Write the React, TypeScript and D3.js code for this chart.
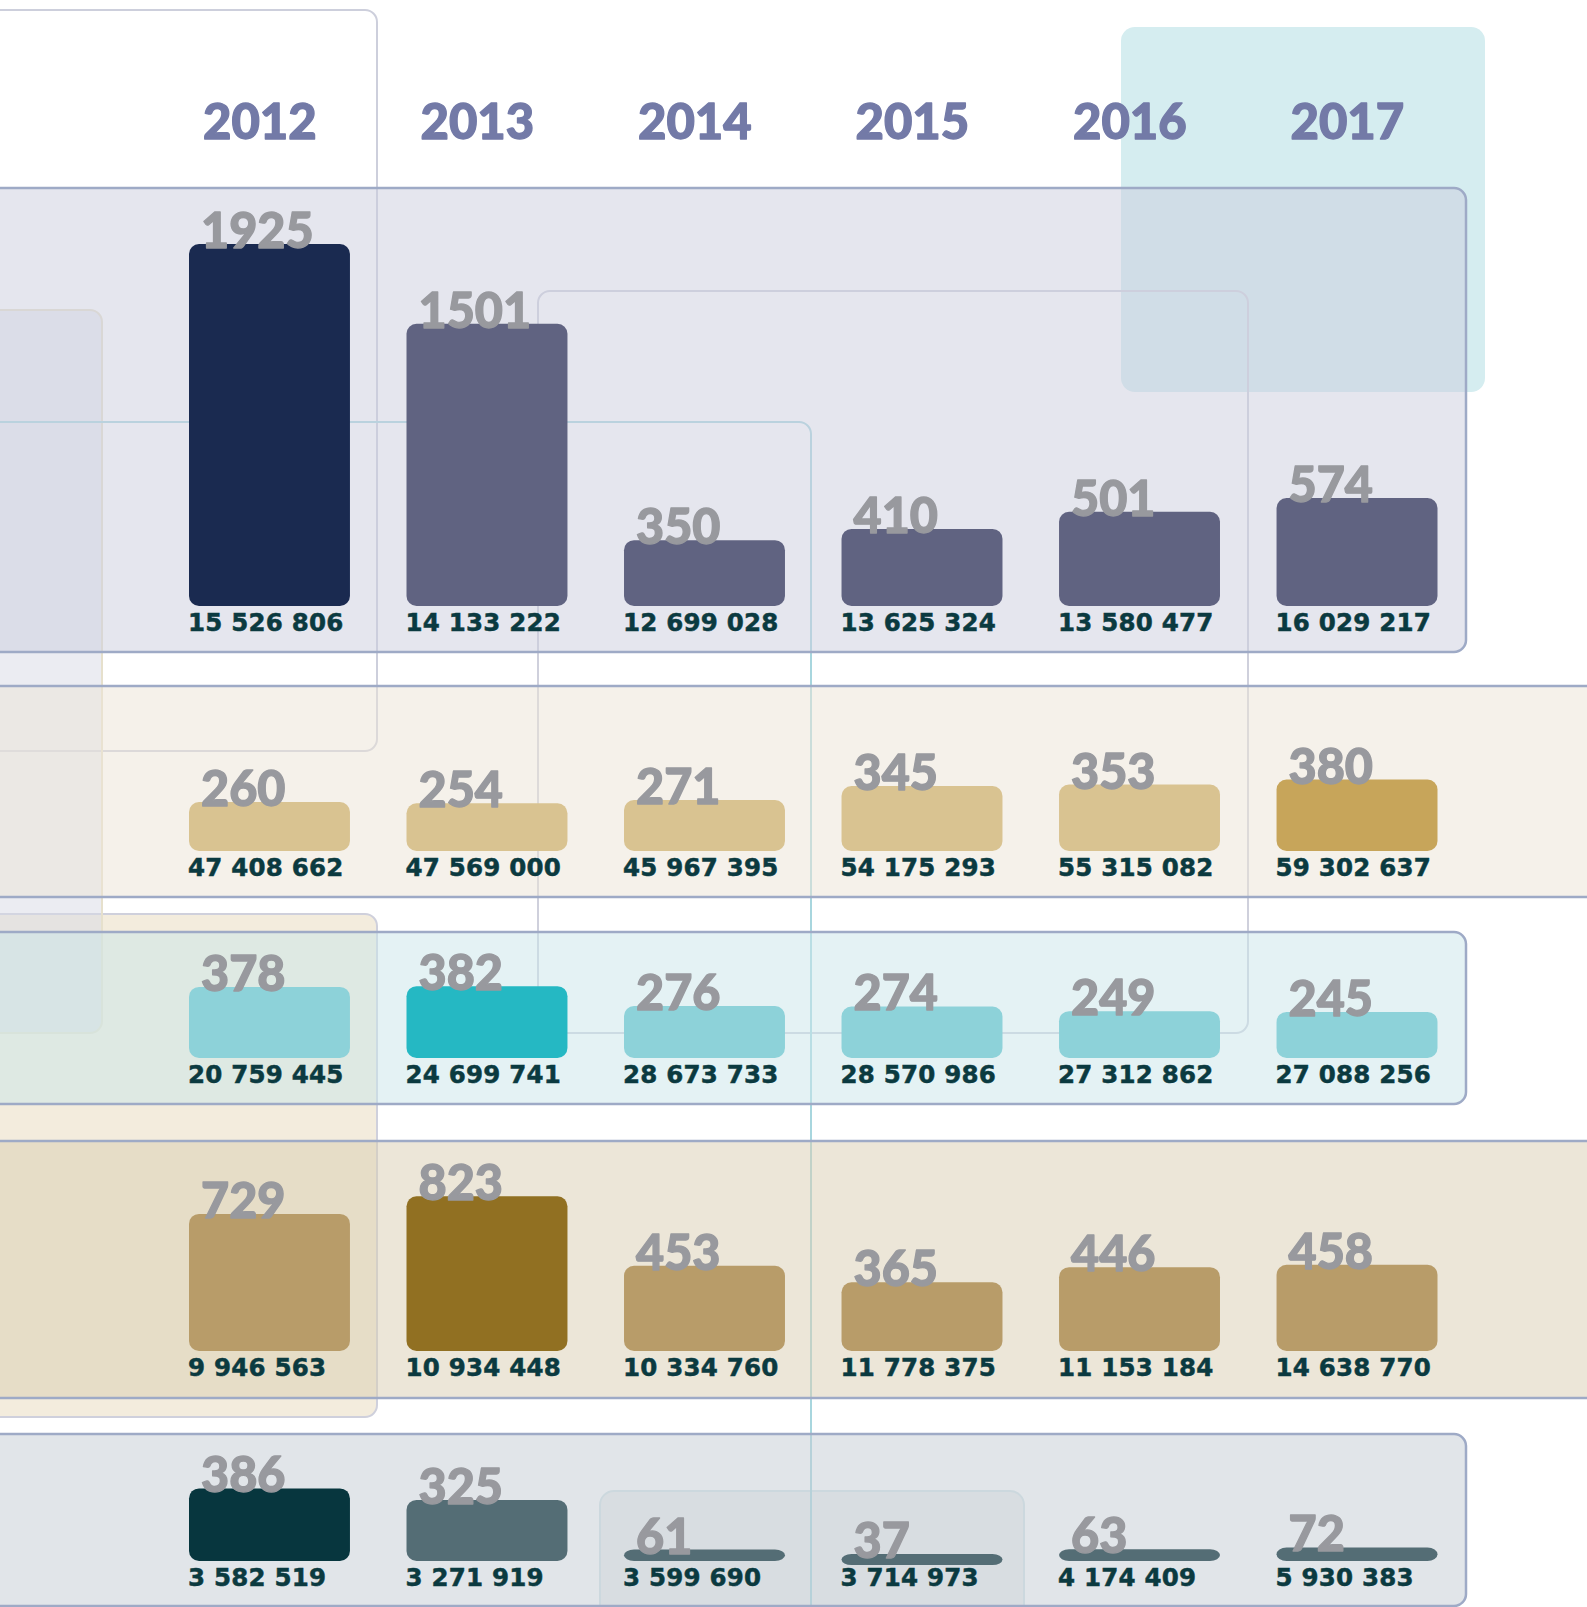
import React from 'react';
import * as d3 from 'd3';

// ---------- data ----------
const years = ['2012', '2013', '2014', '2015', '2016', '2017'];

const row1Counts = [1925, 1501, 350, 410, 501, 574];
const row1Totals = [15526806, 14133222, 12699028, 13625324, 13580477, 16029217];

const row2Counts = [260, 254, 271, 345, 353, 380];
const row2Totals = [47408662, 47569000, 45967395, 54175293, 55315082, 59302637];

const row3Counts = [378, 382, 276, 274, 249, 245];
const row3Totals = [20759445, 24699741, 28673733, 28570986, 27312862, 27088256];

const row4Counts = [729, 823, 453, 365, 446, 458];
const row4Totals = [9946563, 10934448, 10334760, 11778375, 11153184, 14638770];

const row5Counts = [386, 325, 61, 37, 63, 72];
const row5Totals = [3582519, 3271919, 3599690, 3714973, 4174409, 5930383];

const fmt = d3.formatLocale({ decimal: ',', thousands: ' ', grouping: [3], currency: ['', ''] }).format(',d');

export default function App() {
  const W = 1587;
  const H = 1607;

  const x = d3.scaleBand<string>().domain(years).range([189, 1437.5]).paddingInner(0.26).paddingOuter(0);
  const hScale = d3.scaleLinear().domain([0, 1925]).range([0, 362]);

  const rows = [
    { counts: row1Counts, totals: row1Totals, base: 606, color: '#606381', hi: '#1a2a50',
      panel: { x: -20, y: 188, w: 1486, h: 464, fill: '#cbcddd' } },
    { counts: row2Counts, totals: row2Totals, base: 851, color: '#d9c391', hi: '#c7a55a',
      panel: { x: -20, y: 686, w: 1640, h: 211, fill: '#ebe3d5' } },
    { counts: row3Counts, totals: row3Totals, base: 1058, color: '#8dd2d9', hi: '#25b8c3',
      panel: { x: -20, y: 932, w: 1486, h: 172, fill: '#c9e5e9' } },
    { counts: row4Counts, totals: row4Totals, base: 1351, color: '#b89c69', hi: '#917022',
      panel: { x: -20, y: 1141, w: 1640, h: 257, fill: '#d9cdb1' } },
    { counts: row5Counts, totals: row5Totals, base: 1561, color: '#546d75', hi: '#07363e',
      panel: { x: -20, y: 1434, w: 1486, h: 172, fill: '#c3cbd3' } },
  ];

  const bw = x.bandwidth();
  const bigFont = 'Lato, "Open Sans", sans-serif';
  const smallFont = '"DejaVu Sans", Verdana, sans-serif';

  return (
    <svg width={W} height={H} viewBox={`0 0 ${W} ${H}`}
      style={{ position: 'absolute', left: 0, top: 0, display: 'block', background: '#ffffff' }}>
      <rect x={0} y={0} width={W} height={H} fill="#ffffff" />

      {/* decorative background boxes */}
      <rect x={-20} y={10} width={397} height={741} rx={12} fill="none" stroke="#cdcfdc" strokeWidth={2} />
      <rect x={1121} y={27} width={364} height={365} rx={14} fill="#d5edf0" />
      <rect x={-20} y={914} width={397} height={503} rx={12} fill="#f3ecdd" stroke="#cfd0dc" strokeWidth={2} />
      <rect x={-20} y={310} width={122} height={723} rx={12} fill="#d7d9e6" fillOpacity={0.5} stroke="#e6e0cc" strokeWidth={2} />
      <rect x={600} y={1491} width={424} height={140} rx={14} fill="#edefef" stroke="#d5e5e8" strokeWidth={2} />
      <rect x={538} y={291} width={710} height={742} rx={12} fill="none" stroke="#cfd0dc" strokeWidth={2} />
      <rect x={-20} y={422} width={831} height={1240} rx={12} fill="none" stroke="#a8d6de" strokeWidth={2} />

      {/* translucent row panels */}
      {rows.map((r, i) => (
        <rect key={`p${i}`} x={r.panel.x} y={r.panel.y} width={r.panel.w} height={r.panel.h} rx={12}
          fill={r.panel.fill} fillOpacity={0.5} stroke="#9eaac6" strokeWidth={2.5} />
      ))}

      {/* bars */}
      {rows.map((r, ri) => {
        const hiIdx = d3.maxIndex(r.counts);
        return (
          <g key={`r${ri}`}>
            {years.map((yr, i) => {
              const v = r.counts[i];
              const h = hScale(v);
              const top = r.base - h;
              const x0 = x(yr) as number;
              return (
                <g key={yr}>
                  <rect x={x0} y={top} width={bw} height={Math.max(h, 11)} rx={10}
                    fill={i === hiIdx ? r.hi : r.color} />
                  <text x={x0 + 12} y={top + 4} fontFamily={bigFont} fontWeight={900} fontSize={48.5}
                    fill="#98999e" stroke="#98999e" strokeWidth={1.3} strokeLinejoin="round">{v}</text>
                  <text x={x0 - 1} y={r.base + 25} fontFamily={smallFont} fontWeight={700} fontSize={24.5}
                    letterSpacing={0.2} fill="#0b3a40" stroke="#0b3a40" strokeWidth={0.5}>{fmt(r.totals[i])}</text>
                </g>
              );
            })}
          </g>
        );
      })}

      {/* year headers */}
      {years.map((yr) => (
        <text key={`y${yr}`} x={(x(yr) as number) + 14} y={139} fontFamily={bigFont} fontWeight={900}
          fontSize={49} fill="#737aa7" stroke="#737aa7" strokeWidth={1.3} strokeLinejoin="round">{yr}</text>
      ))}
    </svg>
  );
}
